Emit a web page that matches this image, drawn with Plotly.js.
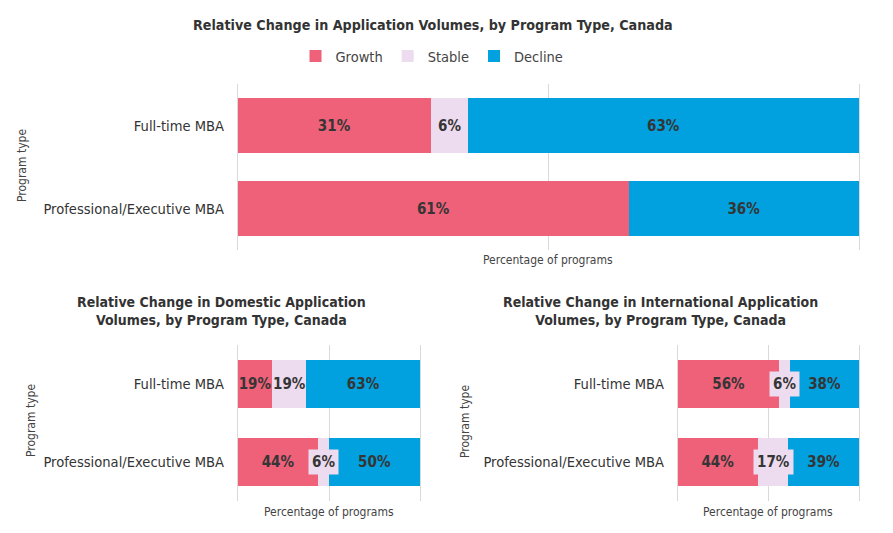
<!DOCTYPE html>
<html>
<head>
<meta charset="utf-8">
<script src="https://cdn.plot.ly/plotly-3.0.1.min.js"></script>
<style>html,body{margin:0;padding:0;background:#fff;}#chart{width:893px;height:533px;}</style>
</head>
<body>
<div id="chart"></div>
<script>
// ---- data ----
const categories = ['Full-time MBA', 'Professional/Executive MBA'];
const seriesNames = ['Growth', 'Stable', 'Decline'];

const overallGrowth = [31, 61];
const overallStable = [6, 0];
const overallDecline = [63, 36];

const domesticGrowth = [19, 44];
const domesticStable = [19, 6];
const domesticDecline = [63, 50];

const intlGrowth = [56, 44];
const intlStable = [6, 17];
const intlDecline = [38, 39];

const titleMain = 'Relative Change in Application Volumes, by Program Type, Canada';
const titleDomestic = 'Relative Change in Domestic Application<br>Volumes, by Program Type, Canada';
const titleIntl = 'Relative Change in International Application<br>Volumes, by Program Type, Canada';
const xTitle = 'Percentage of programs';
const yTitle = 'Program type';

// ---- styles ----
const FONT = 'DejaVu Sans Condensed, DejaVu Sans, sans-serif';
const colors = ['#EF6079', '#EDDCEF', '#00A1DE'];
const labelColor = '#353535';
const W = 893, H = 533;
const px = v => v / W;
const py = v => 1 - v / H;

const charts = [
  {g: overallGrowth, s: overallStable, d: overallDecline, xa: 'x', ya: 'y', legend: true, width: 0.66},
  {g: domesticGrowth, s: domesticStable, d: domesticDecline, xa: 'x2', ya: 'y2', legend: false, width: 0.615},
  {g: intlGrowth, s: intlStable, d: intlDecline, xa: 'x3', ya: 'y3', legend: false, width: 0.615}
];

const traces = [];
const annotations = [];
charts.forEach(c => {
  const vals = [c.g, c.s, c.d];
  vals.forEach((arr, i) => {
    const isStable = i === 1;
    traces.push({
      type: 'bar', orientation: 'h',
      name: seriesNames[i], legendgroup: seriesNames[i], showlegend: c.legend,
      y: categories, x: arr,
      width: c.width,
      xaxis: c.xa, yaxis: c.ya,
      marker: {color: colors[i], line: {width: 0}},
      text: isStable ? null : arr.map(v => v > 0 ? v + '%' : ''),
      textposition: isStable ? 'none' : 'inside',
      insidetextanchor: 'middle',
      textangle: 0,
      constraintext: 'none',
      insidetextfont: {family: FONT, size: 15, color: labelColor, weight: 'bold'},
      hoverinfo: 'skip'
    });
  });
  // Stable labels as annotations (with a background box when segment is narrow)
  categories.forEach((cat, k) => {
    const tot = c.g[k] + c.s[k] + c.d[k];
    if (c.s[k] > 0) {
      const share = c.s[k] / tot * 100;
      annotations.push({
        xref: c.xa, yref: c.ya,
        x: (c.g[k] + c.s[k] / 2) / tot * 100, y: cat,
        text: '<b>' + c.s[k] + '%</b>', showarrow: false,
        font: {family: FONT, size: 15, color: labelColor},
        bgcolor: share < 18 ? colors[1] : 'rgba(0,0,0,0)',
        borderpad: 3
      });
    }
  });
});

// titles
annotations.push(
  {xref: 'paper', yref: 'paper', x: px(433), y: py(25), text: '<b>' + titleMain + '</b>', showarrow: false,
   font: {family: FONT, size: 14.2, color: '#333'}, xanchor: 'center', yanchor: 'middle'},
  {xref: 'paper', yref: 'paper', x: px(221), y: py(311), text: '<b>' + titleDomestic + '</b>', showarrow: false,
   font: {family: FONT, size: 14, color: '#333'}, xanchor: 'center', yanchor: 'middle'},
  {xref: 'paper', yref: 'paper', x: px(660), y: py(311), text: '<b>' + titleIntl + '</b>', showarrow: false,
   font: {family: FONT, size: 14, color: '#333'}, xanchor: 'center', yanchor: 'middle'},
  // x-axis titles
  {xref: 'paper', yref: 'paper', x: px(548), y: py(260), text: xTitle, showarrow: false,
   font: {family: FONT, size: 12, color: '#444'}, xanchor: 'center', yanchor: 'middle'},
  {xref: 'paper', yref: 'paper', x: px(329), y: py(512), text: xTitle, showarrow: false,
   font: {family: FONT, size: 12, color: '#444'}, xanchor: 'center', yanchor: 'middle'},
  {xref: 'paper', yref: 'paper', x: px(768), y: py(512), text: xTitle, showarrow: false,
   font: {family: FONT, size: 12, color: '#444'}, xanchor: 'center', yanchor: 'middle'},
  // y-axis titles
  {xref: 'paper', yref: 'paper', x: px(22), y: py(166), text: yTitle, showarrow: false, textangle: -90,
   font: {family: FONT, size: 12, color: '#444'}, xanchor: 'center', yanchor: 'middle'},
  {xref: 'paper', yref: 'paper', x: px(31), y: py(421), text: yTitle, showarrow: false, textangle: -90,
   font: {family: FONT, size: 12, color: '#444'}, xanchor: 'center', yanchor: 'middle'},
  {xref: 'paper', yref: 'paper', x: px(465), y: py(421), text: yTitle, showarrow: false, textangle: -90,
   font: {family: FONT, size: 12, color: '#444'}, xanchor: 'center', yanchor: 'middle'}
);

const xBase = {range: [0, 100], dtick: 50, tick0: 0, showticklabels: false, ticks: '',
  showgrid: true, gridcolor: '#D9D9D9', gridwidth: 1, zeroline: false, showline: false, fixedrange: true};
const yBase = {type: 'category', autorange: 'reversed', ticks: '', showgrid: false, zeroline: false,
  showline: true, mirror: true, linecolor: '#D9D9D9', linewidth: 1, layer: 'below traces',
  ticklabelstandoff: 10, fixedrange: true,
  tickfont: {family: FONT, size: 14.6, color: '#333'}};

const layout = {
  width: W, height: H,
  margin: {l: 0, r: 0, t: 0, b: 0},
  paper_bgcolor: '#fff', plot_bgcolor: 'rgba(0,0,0,0)',
  barmode: 'stack', barnorm: 'percent',
  font: {family: FONT, color: '#333'},
  showlegend: true,
  legend: {orientation: 'h', x: px(432), xanchor: 'center', y: py(56), yanchor: 'middle',
    font: {family: FONT, size: 14.5, color: '#444'}, itemwidth: 30, traceorder: 'normal'},
  xaxis: Object.assign({}, xBase, {domain: [px(238), px(859)], anchor: 'y'}),
  yaxis: Object.assign({}, yBase, {domain: [py(250), py(84)], anchor: 'x'}),
  xaxis2: Object.assign({}, xBase, {domain: [px(238), px(420)], anchor: 'y2'}),
  yaxis2: Object.assign({}, yBase, {domain: [py(501), py(345)], anchor: 'x2'}),
  xaxis3: Object.assign({}, xBase, {domain: [px(678), px(859)], anchor: 'y3'}),
  yaxis3: Object.assign({}, yBase, {domain: [py(501), py(345)], anchor: 'x3'}),
  annotations: annotations,
  hovermode: false
};

Plotly.newPlot('chart', traces, layout, {displayModeBar: false, staticPlot: true});
</script>
</body>
</html>
